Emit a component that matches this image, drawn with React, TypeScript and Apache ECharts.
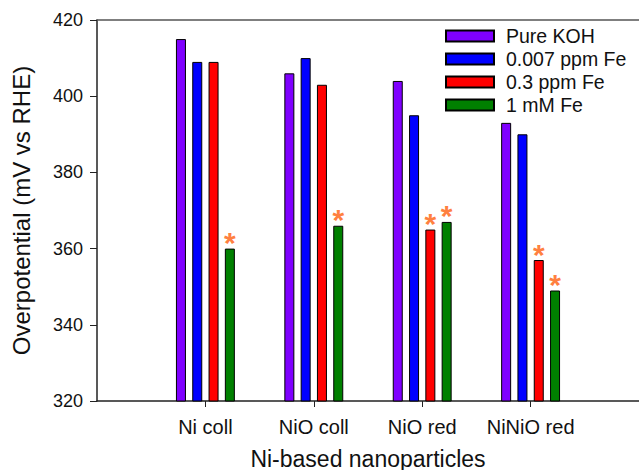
import React, { useEffect, useRef } from "react";
import * as echarts from "echarts";

const categories = ["Ni coll", "NiO coll", "NiO red", "NiNiO red"];
const seriesNames = ["Pure KOH", "0.007 ppm Fe", "0.3 ppm Fe", "1 mM Fe"];
const pureKOH = [415, 406, 404, 393];
const fe007ppm = [409, 410, 395, 390];
const fe03ppm = [409, 403, 365, 357];
const fe1mM = [360, 366, 367, 349];
const starsPure = [false, false, false, false];
const stars007 = [false, false, false, false];
const stars03 = [false, false, true, true];
const stars1mM = [true, true, true, true];
const yTicks = [320, 340, 360, 380, 400, 420];

const colors = ["#7F00FF", "#0000FF", "#FF0000", "#008000"];
const FONT = "Liberation Sans";

export default function App() {
  const ref = useRef<HTMLDivElement>(null);
  useEffect(() => {
    if (!ref.current) return;
    const chart = echarts.init(ref.current, null, { renderer: "svg" });
    const xData = ["", ...categories, ""];
    const values = [pureKOH, fe007ppm, fe03ppm, fe1mM];
    const stars = [starsPure, stars007, stars03, stars1mM];
    const series = values.map((vals, si) => ({
      name: seriesNames[si],
      type: "bar",
      barWidth: 10,
      barGap: "63%",
      itemStyle: { color: colors[si], borderColor: "#000", borderWidth: 1 },
      data: [
        null,
        ...vals.map((v, i) => ({
          value: v,
          label: {
            show: stars[si][i],
            position: "top",
            formatter: "*",
            distance: -9,
            color: "#FF8040",
            fontSize: 30,
            fontWeight: "bold",
            fontFamily: FONT,
          },
        })),
        null,
      ],
    }));
    chart.setOption({
      animation: false,
      textStyle: { fontFamily: FONT },
      grid: { left: 97, right: 0, top: 20, bottom: 69, outerBoundsMode: "none", containLabel: false },
      legend: {
        orient: "vertical",
        left: 445,
        top: 26,
        padding: 0,
        itemWidth: 48,
        itemHeight: 11,
        itemGap: 3,
        icon: "rect",
        textStyle: {
          fontFamily: FONT,
          fontSize: 19.5,
          lineHeight: 20,
          color: "#111",
          padding: [0, 0, 0, 7],
        },
        data: seriesNames,
      },
      xAxis: [
        {
          type: "category",
          data: xData,
          boundaryGap: false,
          name: "Ni-based nanoparticles",
          nameLocation: "middle",
          nameGap: 46,
          nameTextStyle: { fontFamily: FONT, fontSize: 23, color: "#111" },
          axisLine: { lineStyle: { color: "#222", width: 1.5 } },
          axisTick: {
            show: true,
            length: 6,
            interval: (idx: number) => idx > 0 && idx < xData.length - 1,
            lineStyle: { color: "#222" },
          },
          axisLabel: {
            interval: 0,
            fontFamily: FONT,
            fontSize: 20,
            color: "#111",
            margin: 16,
          },
          splitLine: { show: false },
        },
        {
          type: "value",
          position: "top",
          min: 0,
          max: 1,
          axisLine: { show: true, lineStyle: { color: "#555", width: 1.5 } },
          axisTick: { show: false },
          axisLabel: { show: false },
          splitLine: { show: false },
        },
      ],
      yAxis: {
        type: "value",
        min: yTicks[0],
        max: yTicks[yTicks.length - 1],
        interval: 20,
        name: "Overpotential (mV vs RHE)",
        nameLocation: "middle",
        nameGap: 64,
        nameTextStyle: { fontFamily: FONT, fontSize: 24, color: "#111" },
        axisLine: { show: true, lineStyle: { color: "#222", width: 1.5 } },
        axisTick: { show: true, length: 7, lineStyle: { color: "#222" } },
        axisLabel: { fontFamily: FONT, fontSize: 18, color: "#111", margin: 14 },
        splitLine: { show: false },
      },
      series,
    });
    return () => chart.dispose();
  }, []);
  return (
    <div
      ref={ref}
      style={{ position: "fixed", left: 0, top: 0, width: 639, height: 470, background: "#fff" }}
    />
  );
}
